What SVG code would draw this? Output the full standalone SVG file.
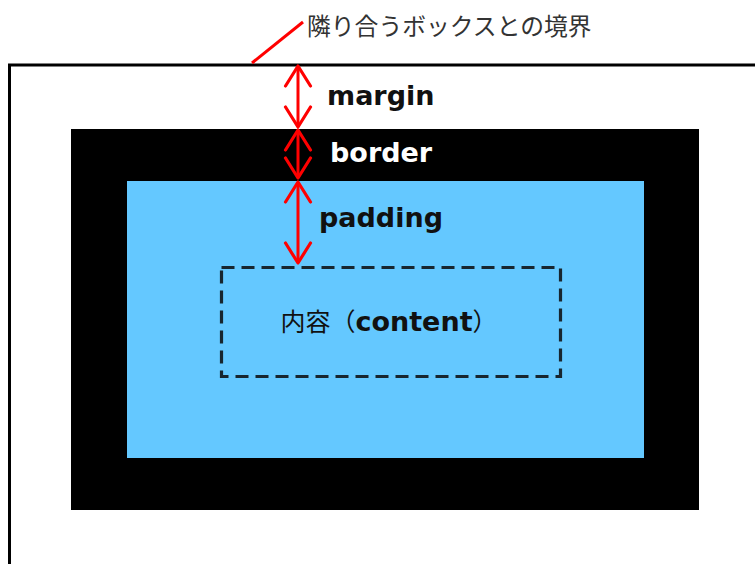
<svg xmlns="http://www.w3.org/2000/svg" width="755" height="564" viewBox="0 0 755 564">
<style>
.lbl{font-family:"DejaVu Sans",Verdana,sans-serif;font-weight:bold;font-size:27px;}
.jp{font-family:"Noto Sans CJK JP","Noto Sans",sans-serif;}
.arr{stroke:#ff0000;stroke-width:3;fill:none;marker-start:url(#chev);marker-end:url(#chev);}
</style>
<defs>
<marker id="chev" viewBox="0 0 24 30" refX="22" refY="15" markerWidth="24" markerHeight="30" markerUnits="userSpaceOnUse" orient="auto-start-reverse">
<path d="M2,2.5 L22,15 L2,27.5" fill="none" stroke="#ff0000" stroke-width="3.2" stroke-linejoin="round" stroke-linecap="round"/>
</marker>
</defs>
<rect width="755" height="564" fill="#ffffff"/>
<g id="margin-box">
<rect x="9.5" y="65" width="800" height="600" fill="#ffffff" stroke="#000000" stroke-width="3"/>
</g>
<g id="border-box">
<rect x="71" y="129" width="628" height="381" fill="#000000"/>
</g>
<g id="padding-box">
<rect x="127" y="181" width="517" height="277" fill="#64c8ff"/>
</g>
<g id="content-box">
<rect x="221.5" y="267.5" width="339" height="109" fill="none" stroke="#17262f" stroke-width="3.2" stroke-dasharray="13,7"/>
<text x="389" y="331" text-anchor="middle" font-size="25" fill="#111111"><tspan class="jp">内容（</tspan><tspan class="lbl" font-size="26.5">content</tspan><tspan class="jp">）</tspan></text>
</g>
<g id="label-boundary">
<text x="307" y="35" class="jp" font-size="23.8" fill="#333333">隣り合うボックスとの境界</text>
</g>
<g id="label-margin"><text x="327" y="105" class="lbl" fill="#111111">margin</text></g>
<g id="label-border"><text x="330" y="162" class="lbl" fill="#ffffff">border</text></g>
<g id="label-padding"><text x="319" y="227" class="lbl" fill="#111111">padding</text></g>
<g id="connectors">
<line x1="252" y1="63" x2="303" y2="22" stroke="#ff0000" stroke-width="3"/>
<line class="arr" x1="298" y1="66" x2="298" y2="127"/>
<line class="arr" x1="298" y1="130" x2="298" y2="178"/>
<line class="arr" x1="298" y1="182" x2="298" y2="263"/>
</g>
</svg>
